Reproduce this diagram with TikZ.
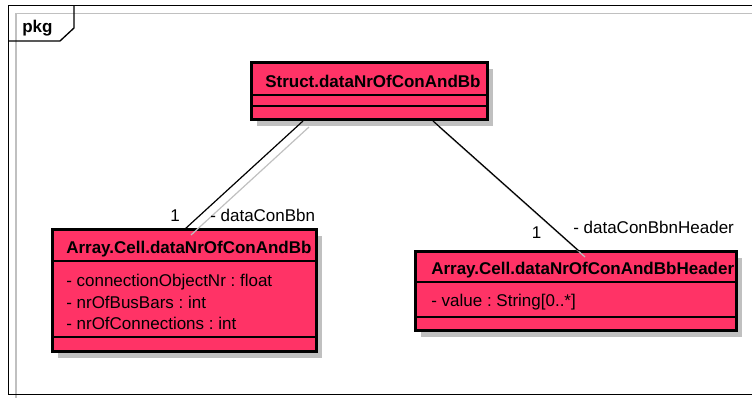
\documentclass[tikz,border=0pt]{standalone}
\usepackage{fontspec}
\setmainfont{Liberation Sans}
\frenchspacing
\definecolor{boxfill}{RGB}{255,51,102}
\definecolor{shadowgray}{RGB}{192,192,192}
\begin{document}
\frenchspacing
\begin{tikzpicture}[x=0.75pt,y=-0.75pt,
  classbox/.style={draw=black, line width=2.25pt, fill=boxfill, anchor=north west, inner sep=0pt, outer sep=0pt},
  shadowbox/.style={fill=shadowgray, draw=none, anchor=north west, inner sep=0pt, outer sep=0pt},
  divider/.style={line width=0.9pt},
  txt/.style={font=\fontsize{12.75}{15}\selectfont\frenchspacing, inner sep=0pt, anchor=base west},
  ttl/.style={font=\fontsize{12.75}{15}\selectfont\bfseries, inner sep=0pt, anchor=base west},
  conn/.style={line width=0.9pt},
  connshadow/.style={line width=0.9pt, draw=shadowgray}]
\useasboundingbox (0,0) rectangle (752,398);
% frame
\draw[shadowgray, line width=0.9pt] (16,398) -- (16,13.5) -- (753,13.5);
\draw[line width=1pt] (753,5.5) -- (8.5,5.5) -- (8.5,394.5) -- (753,394.5);
\draw[line width=1pt] (8.5,41) -- (60,41) -- (74,28) -- (74,5.5);
\node[ttl] (pkg) at (22,32.5) {pkg};
% box shadows
\node[shadowbox, minimum width=236*0.75pt, minimum height=57*0.75pt] (sshadow) at (257,69) {};
\node[shadowbox, minimum width=264*0.75pt, minimum height=122*0.75pt] (ashadow) at (58,236) {};
\node[shadowbox, minimum width=321*0.75pt, minimum height=79*0.75pt] (hshadow) at (421,258) {};
% boxes
\node[classbox, minimum width=236*0.75pt, minimum height=57*0.75pt] (s) at (251,63) {};
\draw[divider] (251,95) -- (487,95);
\draw[divider] (251,106) -- (487,106);
\node[classbox, minimum width=264*0.75pt, minimum height=122*0.75pt] (a) at (52,230) {};
\draw[divider] (52,261) -- (316,261);
\draw[divider] (52,337) -- (316,337);
\node[classbox, minimum width=321*0.75pt, minimum height=79*0.75pt] (h) at (415,252) {};
\draw[divider] (415,282) -- (736,282);
\draw[divider] (415,317) -- (736,317);
% connector end points
\coordinate (l1) at (303,121);
\coordinate (l2) at (185,229);
\coordinate (l1s) at (309,127);
\coordinate (l2s) at (191,235);
\coordinate (r1) at (433,121);
\coordinate (r2) at (579,251);
\coordinate (r1s) at (439,127);
\coordinate (r2s) at (585,257);
\draw[connshadow] (l1s) -- (l2s);
\draw[connshadow] (r1s) -- (r2s);
\draw[conn] (l1) -- (l2);
\draw[conn] (r1) -- (r2);
% texts
\node[ttl] (stitle) at (265,88) {Struct.dataNrOfConAndBb};
\node[ttl] (atitle) at (66,253.5) {Array.Cell.dataNrOfConAndBb};
\node[txt] (aattr1) at (66,287) {- connectionObjectNr : float};
\node[txt] (aattr2) at (66,308.5) {- nrOfBusBars : int};
\node[txt] (aattr3) at (66,330) {- nrOfConnections : int};
\node[ttl] (htitle) at (431,275) {Array.Cell.dataNrOfConAndBbHeader};
\node[txt] (hattr1) at (431,306.5) {- value : String[0..*]};
% labels
\node[txt] (lm) at (170,221.5) {1};
\node[txt] (lr) at (210,221.5) {- dataConBbn};
\node[txt] (rm) at (531.5,239) {1};
\node[txt] (rr) at (573,234) {- dataConBbnHeader};
\end{tikzpicture}
\end{document}
